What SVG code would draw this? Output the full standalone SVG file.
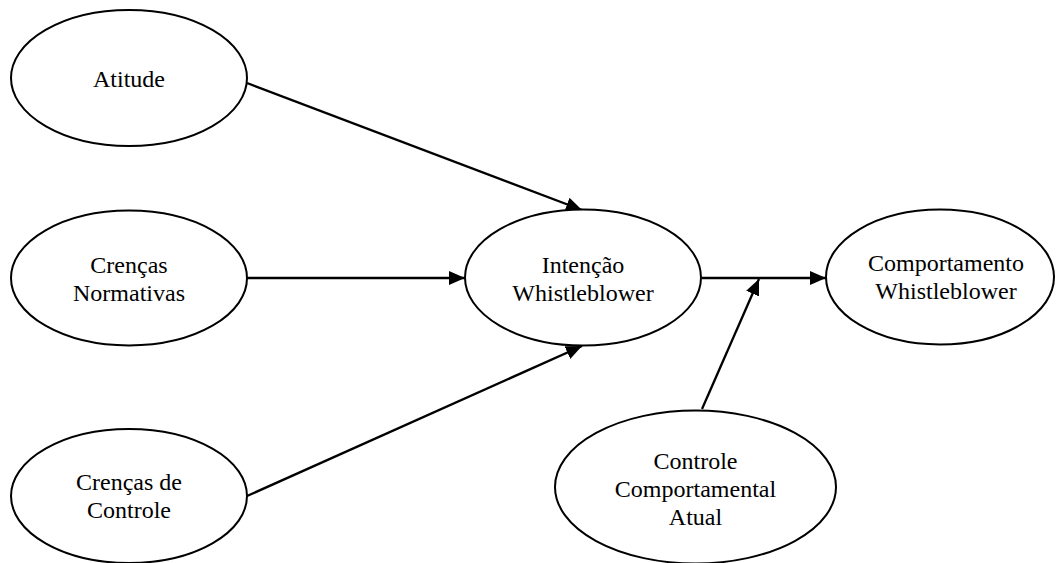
<svg xmlns="http://www.w3.org/2000/svg" width="1057" height="563" viewBox="0 0 1057 563">
  <style>
    .node ellipse { fill: #ffffff; stroke: #000000; stroke-width: 2; }
    .node text { font-family: "Liberation Serif", "Times New Roman", serif; font-size: 24px; fill: #000000; text-anchor: middle; }
    .edge { stroke: #000000; stroke-width: 2.3; fill: none; marker-end: url(#arrow); }
  </style>
  <defs>
    <marker id="arrow" markerUnits="userSpaceOnUse" markerWidth="16" markerHeight="14" refX="16" refY="7" orient="auto">
      <path d="M0,0 L16,7 L0,14 Z" fill="#000000"/>
    </marker>
  </defs>
  <rect width="1057" height="563" fill="#ffffff"/>

  <!-- connectors -->
  <g id="connectors">
    <line class="edge" x1="247" y1="83" x2="582" y2="210"/>
    <line class="edge" x1="247" y1="278" x2="465" y2="278"/>
    <line class="edge" x1="247" y1="496" x2="582" y2="346"/>
    <line class="edge" x1="702" y1="278" x2="826" y2="278"/>
    <line class="edge" x1="702" y1="409" x2="759" y2="279"/>
  </g>

  <g id="atitude" class="node">
    <ellipse cx="129" cy="78" rx="118" ry="68"/>
    <text x="129" y="87">Atitude</text>
  </g>

  <g id="crencas-normativas" class="node">
    <ellipse cx="129" cy="278" rx="118" ry="67.5"/>
    <text x="129" y="272.5">Crenças</text>
    <text x="129" y="300.5">Normativas</text>
  </g>

  <g id="crencas-controle" class="node">
    <ellipse cx="129" cy="496" rx="118" ry="67"/>
    <text x="129" y="490">Crenças de</text>
    <text x="129" y="518">Controle</text>
  </g>

  <g id="intencao" class="node">
    <ellipse cx="583" cy="277.5" rx="118" ry="68"/>
    <text x="583" y="272.5">Intenção</text>
    <text x="583" y="300.5">Whistleblower</text>
  </g>

  <g id="comportamento" class="node">
    <ellipse cx="940" cy="277" rx="114" ry="67.5"/>
    <text x="946" y="271">Comportamento</text>
    <text x="946" y="299">Whistleblower</text>
  </g>

  <g id="controle-atual" class="node">
    <ellipse cx="695.5" cy="487" rx="140.5" ry="76.5"/>
    <text x="695.5" y="469">Controle</text>
    <text x="695.5" y="497">Comportamental</text>
    <text x="695.5" y="525">Atual</text>
  </g>
</svg>
